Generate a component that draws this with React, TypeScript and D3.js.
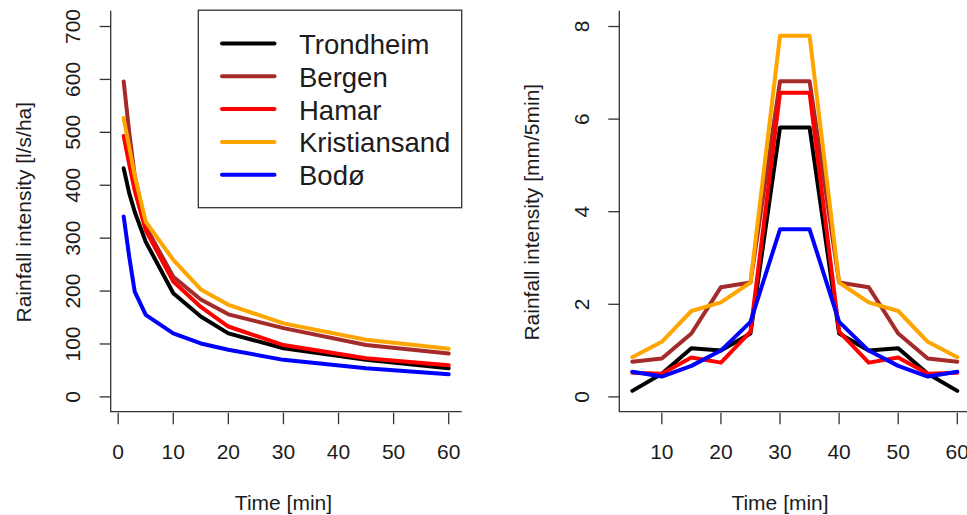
import { useEffect, useRef } from "react";
import * as d3 from "d3";

// Series names and colours (legend order = draw order)
const cities = ["Trondheim", "Bergen", "Hamar", "Kristiansand", "Bodø"];
const colors = ["#000000", "#a52a2a", "#ff0000", "#ffa500", "#0000ff"];

// Left panel: IDF curves, duration [min] vs intensity [l/s/ha]
const idfDurations = [1, 2, 3, 5, 10, 15, 20, 30, 45, 60];
const idfTrondheim = [432, 385, 350, 293, 196, 152, 120, 92, 70, 54];
const idfBergen = [596, 500, 418, 322, 227, 184, 156, 130, 98, 82];
const idfHamar = [493, 440, 390, 315, 218, 170, 133, 98, 73, 60];
const idfKristiansand = [527, 472, 418, 331, 259, 203, 174, 139, 108, 91];
const idfBodo = [341, 265, 199, 155, 120, 101, 89, 70, 54, 43];

// Right panel: design hyetographs, time [min] vs intensity [mm/5min]
const hyetoTimes = [5, 10, 15, 20, 25, 30, 35, 40, 45, 50, 55, 60];
const hyetoTrondheim = [0.13, 0.5, 1.05, 1.0, 1.37, 5.82, 5.82, 1.37, 1.0, 1.05, 0.5, 0.13];
const hyetoBergen = [0.76, 0.83, 1.37, 2.37, 2.47, 6.82, 6.82, 2.47, 2.37, 1.37, 0.83, 0.76];
const hyetoHamar = [0.52, 0.5, 0.85, 0.74, 1.41, 6.57, 6.57, 1.41, 0.74, 0.85, 0.5, 0.52];
const hyetoKristiansand = [0.855, 1.19, 1.855, 2.04, 2.47, 7.8, 7.8, 2.47, 2.04, 1.855, 1.19, 0.855];
const hyetoBodo = [0.545, 0.44, 0.67, 1.0, 1.62, 3.62, 3.62, 1.62, 1.0, 0.67, 0.44, 0.545];

const leftTicksX = [0, 10, 20, 30, 40, 50, 60];
const leftTicksY = [0, 100, 200, 300, 400, 500, 600, 700];
const rightTicksX = [10, 20, 30, 40, 50, 60];
const rightTicksY = [0, 2, 4, 6, 8];

const FONT = "'Liberation Sans', Arial, Helvetica, sans-serif";
const INK = "#1c1c1c";

const App: React.FC = () => {
    const svgRef = useRef<SVGSVGElement | null>(null);

    useEffect(() => {
        if (!svgRef.current) return;
        const svg = d3.select(svgRef.current);
        svg.selectAll("*").remove();

        const top = 11.7;
        const bottom = 411.7;
        const panelW = 351;

        // R style: data range padded by 4% each side
        const pad = (lo: number, hi: number) => {
            const e = (hi - lo) * 0.04;
            return [lo - e, hi + e];
        };

        const drawPanel = (
            left: number,
            xs: number[],
            series: number[][],
            yMax: number,
            ticksX: number[],
            ticksY: number[],
            yLabel: string
        ) => {
            const x = d3.scaleLinear()
                .domain(pad(d3.min(xs) as number, d3.max(xs) as number))
                .range([left, left + panelW]);
            const y = d3.scaleLinear().domain(pad(0, yMax)).range([bottom, top]);

            const g = svg.append("g");

            // L-shaped box
            g.append("path")
                .attr("d", `M${left},${top - 1}V${bottom}H${left + panelW}`)
                .attr("fill", "none")
                .attr("stroke", "#333")
                .attr("stroke-width", 1.3);

            // x ticks
            g.selectAll(".xt").data(ticksX).enter().append("line")
                .attr("x1", d => x(d)).attr("x2", d => x(d))
                .attr("y1", bottom + 1).attr("y2", bottom + 12.5)
                .attr("stroke", "#333").attr("stroke-width", 1.3);
            g.selectAll(".xl").data(ticksX).enter().append("text")
                .attr("x", d => x(d)).attr("y", 458.5)
                .attr("text-anchor", "middle")
                .attr("font-family", FONT).attr("font-size", 21).attr("fill", INK)
                .text(d => d);

            // y ticks
            g.selectAll(".yt").data(ticksY).enter().append("line")
                .attr("x1", left - 11).attr("x2", left)
                .attr("y1", d => y(d)).attr("y2", d => y(d))
                .attr("stroke", "#333").attr("stroke-width", 1.3);
            g.selectAll(".yl").data(ticksY).enter().append("text")
                .attr("transform", d => `translate(${left - 30.7},${y(d)}) rotate(-90)`)
                .attr("text-anchor", "middle")
                .attr("font-family", FONT).attr("font-size", 21).attr("fill", INK)
                .text(d => d);

            // axis titles
            g.append("text")
                .attr("x", x(30) + (left === 110.7 ? 0 : 0)).attr("y", 509.5)
                .attr("text-anchor", "middle")
                .attr("font-family", FONT).attr("font-size", 21).attr("fill", INK)
                .text("Time [min]");
            g.append("text")
                .attr("transform", `translate(${left - 80},${(top + bottom) / 2 + 0.5}) rotate(-90)`)
                .attr("text-anchor", "middle")
                .attr("font-family", FONT).attr("font-size", 21).attr("fill", INK)
                .text(yLabel);

            const line = d3.line<number>()
                .x((_, i) => x(xs[i]))
                .y(d => y(d));

            series.forEach((s, i) => {
                g.append("path")
                    .datum(s)
                    .attr("d", line)
                    .attr("fill", "none")
                    .attr("stroke", colors[i])
                    .attr("stroke-width", 4)
                    .attr("stroke-linejoin", "round")
                    .attr("stroke-linecap", "round");
            });

            return g;
        };

        const leftPanel = drawPanel(
            110.7, idfDurations,
            [idfTrondheim, idfBergen, idfHamar, idfKristiansand, idfBodo],
            700, leftTicksX, leftTicksY, "Rainfall intensity [l/s/ha]"
        );

        drawPanel(
            619.3, hyetoTimes,
            [hyetoTrondheim, hyetoBergen, hyetoHamar, hyetoKristiansand, hyetoBodo],
            8, rightTicksX, rightTicksY, "Rainfall intensity [mm/5min]"
        );

        // Legend
        const legend = leftPanel.append("g");
        legend.append("rect")
            .attr("x", 198.3).attr("y", 10.2)
            .attr("width", 263.4).attr("height", 197.5)
            .attr("fill", "white")
            .attr("stroke", "#333").attr("stroke-width", 1.3);
        cities.forEach((c, i) => {
            const cy = 43.5 + i * 32.8;
            legend.append("line")
                .attr("x1", 222).attr("x2", 274.5)
                .attr("y1", cy).attr("y2", cy)
                .attr("stroke", colors[i]).attr("stroke-width", 4)
                .attr("stroke-linecap", "round");
            legend.append("text")
                .attr("x", 299).attr("y", cy + 10.5)
                .attr("font-family", FONT).attr("font-size", 27.5).attr("fill", INK)
                .text(c);
        });
    }, []);

    return (
        <svg
            ref={svgRef}
            width={967}
            height={515}
            style={{ position: "absolute", left: 0, top: 0, background: "white" }}
        />
    );
};

export default App;
